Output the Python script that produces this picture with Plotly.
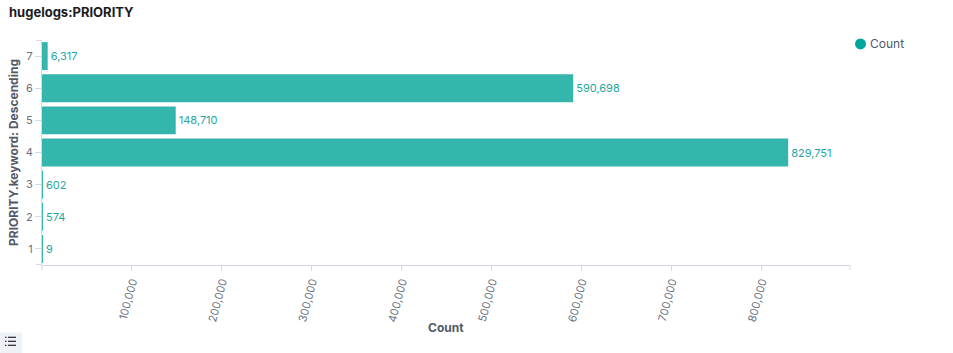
import plotly.graph_objects as go

categories = ["7", "6", "5", "4", "3", "2", "1"]
counts = [6317, 590698, 148710, 829751, 602, 574, 9]
x_ticks = [100000, 200000, 300000, 400000, 500000, 600000, 700000, 800000]
x_tick_labels = ["100,000", "200,000", "300,000", "400,000", "500,000", "600,000", "700,000", "800,000"]
x_max = 898500
series_name = "Count"

W, H = 953, 353
L, R, T, B = 42, 103, 40, 87.5
PW, PH = W - L - R, H - T - B

def px(x):
    return (x - L) / PW

def py(y):
    return (H - B - y) / PH

bar_color = "#34b6ad"
label_color = "#1fa79c"
axis_color = "#d3dae6"
tick_font_color = "#69707d"
font = "Inter, Roboto, sans-serif"

fig = go.Figure()
fig.add_trace(go.Bar(
    y=categories, x=counts, orientation="h",
    marker=dict(color=bar_color, line=dict(width=0)),
    text=[f"{v:,}" for v in counts], textposition="outside",
    textfont=dict(color=label_color, size=11, family=font),
    cliponaxis=False, showlegend=False, name=series_name,
))

shapes = []
# end ticks of axes
for xx in [42, 850]:
    shapes.append(dict(type="line", xref="paper", yref="paper",
                       x0=px(xx), x1=px(xx), y0=py(265.5), y1=py(270.5),
                       line=dict(color=axis_color, width=1)))
for yy in [40.5, 265]:
    shapes.append(dict(type="line", xref="paper", yref="paper",
                       x0=px(36), x1=px(42), y0=py(yy), y1=py(yy),
                       line=dict(color=axis_color, width=1)))
# legend dot
shapes.append(dict(type="circle", xref="paper", yref="paper",
                   x0=px(855), x1=px(866), y0=py(38.5), y1=py(49.5),
                   fillcolor="#00a69b", line=dict(width=0)))
# bottom-left list icon
shapes.append(dict(type="rect", xref="paper", yref="paper",
                   x0=px(-2), x1=px(22), y0=py(333), y1=py(355),
                   fillcolor="#eef1f6", line=dict(width=0), layer="below"))
for yy in [338, 342, 346]:
    shapes.append(dict(type="line", xref="paper", yref="paper",
                       x0=px(8), x1=px(16), y0=py(yy), y1=py(yy),
                       line=dict(color="#343741", width=1.3)))
    shapes.append(dict(type="line", xref="paper", yref="paper",
                       x0=px(5), x1=px(6.5), y0=py(yy), y1=py(yy),
                       line=dict(color="#343741", width=1.3)))

fig.update_layout(
    width=W, height=H,
    margin=dict(l=L, r=R, t=T, b=B),
    paper_bgcolor="white", plot_bgcolor="white",
    font=dict(family=font, color=tick_font_color, size=11),
    bargap=0.13,
    shapes=shapes,
    showlegend=False,
    annotations=[
        dict(text="<b>hugelogs:PRIORITY</b>", xref="paper", yref="paper",
             x=px(7), y=py(12), xanchor="left", yanchor="middle", showarrow=False,
             font=dict(size=13, color="#1a1c21", family=font)),
        dict(text="<b>Count</b>", xref="paper", yref="paper",
             x=px(446), y=py(328), xanchor="center", yanchor="middle", showarrow=False,
             font=dict(size=12, color="#535966", family=font)),
        dict(text=series_name, xref="paper", yref="paper",
             x=px(868), y=py(44), xanchor="left", yanchor="middle", showarrow=False,
             font=dict(size=12, color="#535966", family=font)),
    ],
    xaxis=dict(
        range=[0, x_max], tickvals=x_ticks, ticktext=x_tick_labels,
        tickangle=-75, ticks="outside", ticklen=5, tickcolor=axis_color,
        showline=True, linecolor=axis_color, linewidth=1,
        showgrid=False, zeroline=False, automargin=False,
        tickfont=dict(size=11, color=tick_font_color, family=font),
    ),
    yaxis=dict(
        type="category", categoryorder="array", categoryarray=categories[::-1],
        ticks="outside", ticklen=6, tickcolor=axis_color,
        showline=True, linecolor=axis_color, linewidth=1,
        showgrid=False, zeroline=False, automargin=False,
        tickfont=dict(size=11, color=tick_font_color, family=font),
        title=dict(text="<b>PRIORITY.keyword: Descending</b>", font=dict(size=12, color="#535966", family=font), standoff=4),
    ),
)

fig.write_html("out.html")
